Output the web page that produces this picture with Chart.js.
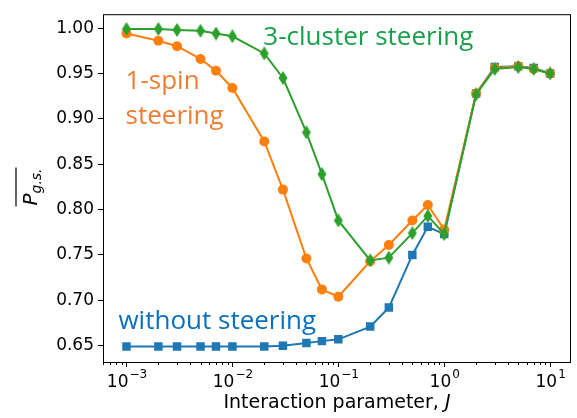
<!DOCTYPE html>
<html lang="en">
<head>
<meta charset="UTF-8">
<title>Ground state probability vs J</title>
<script src="https://cdn.jsdelivr.net/npm/chart.js"></script>
<style>
  html, body { margin: 0; padding: 0; background: #fff; overflow: hidden; }
  #wrap { width: 577px; height: 418px; }
</style>
</head>
<body>
<div id="wrap"><canvas id="chart"></canvas></div>
<script>
  // interaction parameter J
  const J = [0.001, 0.002, 0.003, 0.005, 0.007, 0.01, 0.02, 0.03, 0.05, 0.07,
             0.1, 0.2, 0.3, 0.5, 0.7, 1, 2, 3, 5, 7, 10];
  const withoutSteering = [0.649, 0.649, 0.649, 0.649, 0.649, 0.649, 0.649, 0.650, 0.653, 0.655,
                           0.657, 0.671, 0.692, 0.750, 0.781, 0.773, 0.928, 0.957, 0.958, 0.956, 0.950];
  const oneSpin = [0.994, 0.986, 0.980, 0.966, 0.953, 0.934, 0.875, 0.822, 0.746, 0.712,
                   0.704, 0.743, 0.761, 0.788, 0.805, 0.778, 0.928, 0.956, 0.958, 0.955, 0.950];
  const threeCluster = [0.999, 0.999, 0.998, 0.997, 0.994, 0.991, 0.972, 0.945, 0.885, 0.839,
                        0.788, 0.744, 0.747, 0.774, 0.793, 0.773, 0.927, 0.955, 0.957, 0.955, 0.950];
  const decades = [0.001, 0.01, 0.1, 1, 10];
  const exponents = ['−3', '−2', '−1', '0', '1'];
  const yTicks = [0.65, 0.70, 0.75, 0.80, 0.85, 0.90, 0.95, 1.00];
  // in-plot labels, positioned in data coordinates
  const notes = [
    ['3-cluster steering', 0.0196, 0.990, '#1a9f4b'],
    ['1-spin', 0.00098, 0.941, '#ee7d31'],
    ['steering', 0.00098, 0.903, '#ee7d31'],
    ['without steering', 0.00084, 0.676, '#0a70be'],
  ];

  function thinDiamond(color) {
    const c = document.createElement('canvas');
    c.width = 10; c.height = 14;
    const g = c.getContext('2d');
    g.fillStyle = color;
    g.beginPath();
    g.moveTo(5, 0); g.lineTo(9.5, 7); g.lineTo(5, 14); g.lineTo(0.5, 7);
    g.closePath(); g.fill();
    return c;
  }

  const toPts = vals => J.map((x, i) => ({ x, y: vals[i] }));

  const extras = {
    id: 'extras',
    afterDraw(chart) {
      const g = chart.ctx;
      const { left, right, top, bottom } = chart.chartArea;
      const xs = chart.scales.x, ys = chart.scales.y;
      g.save();
      // frame
      g.strokeStyle = '#000';
      g.lineWidth = 1;
      g.strokeRect(left + 0.5, top + 0.5, right - left - 1, bottom - top);
      // x ticks, major and minor
      for (let e = -4; e <= 1; e++) {
        for (let m = 1; m <= 9; m++) {
          const v = m * Math.pow(10, e);
          const px = xs.getPixelForValue(v);
          if (px < left || px > right) continue;
          const len = m === 1 ? 5 : 3;
          g.beginPath();
          g.moveTo(Math.round(px) + 0.5, bottom);
          g.lineTo(Math.round(px) + 0.5, bottom + len);
          g.stroke();
        }
      }
      // x tick labels 10^n
      g.fillStyle = '#000';
      g.textBaseline = 'alphabetic';
      g.textAlign = 'left';
      decades.forEach((v, i) => {
        const px = xs.getPixelForValue(v);
        g.font = '17px "DejaVu Sans"';
        const wb = g.measureText('10').width;
        g.font = '12px "DejaVu Sans"';
        const we = g.measureText(exponents[i]).width;
        const x0 = px - (wb + we) / 2;
        g.font = '17px "DejaVu Sans"';
        g.fillText('10', x0, bottom + 25);
        g.font = '12px "DejaVu Sans"';
        g.fillText(exponents[i], x0 + wb + 1, bottom + 16);
      });
      // x title with italic J
      g.font = '19px "DejaVu Sans"';
      const t1 = 'Interaction parameter, ';
      const w1 = g.measureText(t1).width;
      g.font = 'italic 19px "DejaVu Sans"';
      const w2 = g.measureText('J').width;
      const tx = (left + right) / 2 - (w1 + w2) / 2;
      g.font = '19px "DejaVu Sans"';
      g.fillText(t1, tx, bottom + 46);
      g.font = 'italic 19px "DejaVu Sans"';
      g.fillText('J', tx + w1, bottom + 46);
      // notes
      g.font = '26px "Open Sans", "Noto Sans", sans-serif';
      g.textBaseline = 'middle';
      notes.forEach(([t, x, y, col]) => {
        g.fillStyle = col;
        g.fillText(t, xs.getPixelForValue(x), ys.getPixelForValue(y));
      });
      // y title: overline P_{g.s.}
      g.translate(30, 187);
      g.rotate(-Math.PI / 2);
      g.fillStyle = '#000';
      g.textBaseline = 'alphabetic';
      g.font = 'italic 20px "DejaVu Sans"';
      const wP = g.measureText('P').width;
      g.font = 'italic 14px "DejaVu Sans"';
      const wS = g.measureText('g.s.').width;
      const total = wP + wS;
      const x0 = -total / 2;
      g.font = 'italic 20px "DejaVu Sans"';
      g.fillText('P', x0, 7);
      g.font = 'italic 14px "DejaVu Sans"';
      g.fillText('g.s.', x0 + wP, 11);
      g.lineWidth = 1.2;
      g.beginPath();
      g.moveTo(x0 - 1, -14);
      g.lineTo(x0 + total + 1, -14);
      g.stroke();
      g.restore();
    }
  };

  new Chart(document.getElementById('chart'), {
    type: 'line',
    data: {
      datasets: [
        {
          data: toPts(threeCluster),
          borderColor: '#2ca02c', backgroundColor: '#2ca02c',
          pointStyle: thinDiamond('#2ca02c'), borderWidth: 2,
        },
        {
          data: toPts(oneSpin),
          borderColor: '#ff7f0e', backgroundColor: '#ff7f0e',
          pointStyle: 'circle', pointRadius: 5, borderWidth: 2, pointBorderWidth: 0,
        },
        {
          data: toPts(withoutSteering),
          borderColor: '#1f77b4', backgroundColor: '#1f77b4',
          pointStyle: 'rect', pointRadius: 6, borderWidth: 2, pointBorderWidth: 0,
        },
      ]
    },
    options: {
      responsive: true,
      maintainAspectRatio: false,
      animation: false,
      layout: { padding: { top: 12, right: 4, left: 0, bottom: 0 } },
      plugins: { legend: { display: false }, tooltip: { enabled: false } },
      scales: {
        x: {
          type: 'logarithmic',
          min: Math.pow(10, -3.206),
          max: Math.pow(10, 1.197),
          afterBuildTicks: s => { s.ticks = decades.map(v => ({ value: v })); },
          afterFit: s => { s.height = 56; },
          grid: { display: false },
          border: { display: false },
          ticks: { display: false },
        },
        y: {
          min: 0.632,
          max: 1.0153,
          afterBuildTicks: s => { s.ticks = yTicks.map(v => ({ value: v })); },
          afterFit: s => { s.width = 103; },
          grid: { drawOnChartArea: false, tickLength: 5, tickColor: '#000' },
          border: { display: false },
          ticks: {
            color: '#000', padding: 4,
            font: { family: '"DejaVu Sans"', size: 17 },
            callback: v => v.toFixed(2),
          },
        },
      },
    },
    plugins: [extras],
  });
</script>
</body>
</html>
